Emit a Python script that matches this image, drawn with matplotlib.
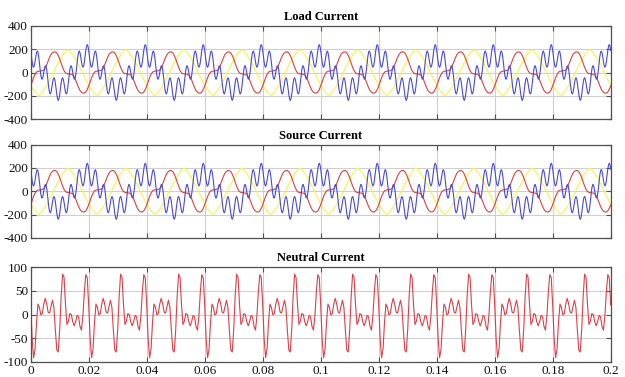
import numpy as np
import matplotlib
matplotlib.use("Agg")
import matplotlib.pyplot as plt

# ---------------- data (one 20 ms period, sampled at a fixed step) ----------------
titles = ["Load Current", "Source Current", "Neutral Current"]
x_ticks = [0, 0.02, 0.04, 0.06, 0.08, 0.1, 0.12, 0.14, 0.16, 0.18, 0.2]
x_tick_labels = ["0", "0.02", "0.04", "0.06", "0.08", "0.1", "0.12", "0.14", "0.16", "0.18", "0.2"]
phase_y_ticks = [-400, -200, 0, 200, 400]
phase_y_labels = ["-400", "-200", "0", "200", "400"]
neutral_y_ticks = [-100, -50, 0, 50, 100]
neutral_y_labels = ["-100", "-50", "0", "50", "100"]

coarse_step = 0.0005   # seconds between samples (red, yellow, neutral)
fine_step = 0.00025    # seconds between samples (blue)
n_periods = 10         # periods shown (0 .. 0.2 s)

load_red = [-116, -80, -45, -16, 3, 10, 12, 14, 16, 22, 38, 65, 98, 130, 155, 170, 177, 177, 168, 146,
            116, 80, 45, 16, -3, -10, -12, -14, -16, -22, -38, -65, -98, -130, -155, -170, -177, -177, -168, -146]
load_yellow = [-108, -129, -148, -166, -181, -194, -196, -184, -169, -152, -133, -112, -90, -66, -41, -15, 10, 36, 61, 85,
               108, 129, 148, 166, 181, 194, 196, 184, 169, 152, 133, 112, 90, 66, 41, 15, -10, -36, -61, -85]
load_blue = [189, 139, 90, 55, 45, 60, 94, 135, 170, 185, 174, 137, 82, 23, -26, -55, -57, -35, 0, 35,
             57, 55, 26, -23, -82, -137, -174, -185, -170, -135, -94, -60, -45, -55, -90, -139, -189, -226, -240, -226,
             -189, -139, -90, -55, -45, -60, -94, -135, -170, -185, -174, -137, -82, -23, 26, 55, 57, 35, 0, -35,
             -57, -55, -26, 23, 82, 137, 174, 185, 170, 135, 94, 60, 45, 55, 90, 139, 189, 226, 240, 226]
source_red = load_red
source_yellow = load_yellow
source_blue = load_blue
neutral = [20, -51, -91, -73, -17, 22, 15, -1, 2, 22, 34, 23, 5, 3, 17, 30, 15, -32, -75, -79,
           -32, 38, 85, 78, 21, -21, -14, 2, 0, -15, -24, -15, -2, -5, -25, -33, -3, 48, 84, 77]

# ---------------- styling ----------------
plt.rcParams["font.family"] = ["Liberation Serif", "DejaVu Serif"]
plt.rcParams["axes.unicode_minus"] = False

RED = "#d8413f"
YELLOW = "#f7f24a"
BLUE = "#4a4ad0"
NEUTRAL = "#d9404a"
GRID = "#cfcfcf"
FRAME = "#505050"


def periodic(values, step):
    v = np.asarray(values, dtype=float)
    full = np.concatenate([np.tile(v, n_periods), v[:1]])
    t = np.arange(full.size) * step
    return t, full


fig = plt.figure(figsize=(6.25, 3.77), dpi=100)
W, H = 625.0, 377.0
boxes = [(30.7, 26, 610.7, 119), (30.7, 144.5, 610.7, 238), (30.7, 267, 610.7, 362)]
axes = []
for (l, tp, r, b) in boxes:
    axes.append(fig.add_axes([l / W, 1 - b / H, (r - l) / W, (b - tp) / H]))


def style(ax, yticks, ylabels, ylim, show_x):
    ax.set_xlim(0, 0.2)
    ax.set_ylim(*ylim)
    ax.set_xticks(x_ticks)
    ax.set_yticks(yticks)
    ax.set_yticklabels(ylabels)
    if show_x:
        ax.set_xticklabels(x_tick_labels)
    else:
        ax.set_xticklabels([])
    ax.grid(True, color=GRID, linewidth=0.8, linestyle="-")
    ax.set_axisbelow(True)
    ax.tick_params(direction="in", length=3.5, width=0.8, color=FRAME,
                   top=True, right=True, labelsize=9.5, pad=2, labelcolor="#111111")
    for s in ax.spines.values():
        s.set_color(FRAME)
        s.set_linewidth(0.9)


phase_sets = [(load_yellow, load_red, load_blue), (source_yellow, source_red, source_blue)]
for ax, title, (yel, red, blu) in zip(axes[:2], titles[:2], phase_sets):
    t, y = periodic(yel, coarse_step)
    ax.plot(t, y, color=YELLOW, linewidth=0.8)
    t, y = periodic(red, coarse_step)
    ax.plot(t, y, color=RED, linewidth=0.8)
    t, y = periodic(blu, fine_step)
    ax.plot(t, y, color=BLUE, linewidth=0.8)
    style(ax, phase_y_ticks, phase_y_labels, (-400, 400), False)
    ax.set_title(title, fontsize=9, fontweight="bold", pad=4)

ax = axes[2]
t, y = periodic(neutral, coarse_step)
ax.plot(t, y, color=NEUTRAL, linewidth=0.8)
style(ax, neutral_y_ticks, neutral_y_labels, (-100, 100), True)
ax.set_title(titles[2], fontsize=9, fontweight="bold", pad=4)

fig.savefig("out.png", dpi=100)
